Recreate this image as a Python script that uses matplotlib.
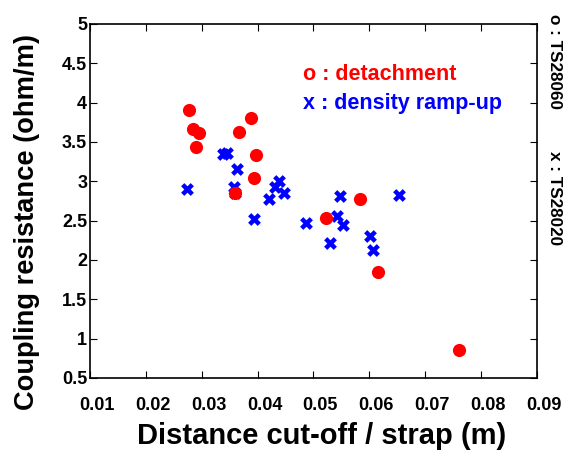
import matplotlib
matplotlib.use("Agg")
import matplotlib.pyplot as plt
import matplotlib.transforms as mtransforms

plt.rcParams["font.family"] = ["Liberation Sans", "DejaVu Sans"]
plt.rcParams["font.weight"] = "bold"

# detachment shots (TS28060)
det_x = [0.0278, 0.0285, 0.0296, 0.0290, 0.0389, 0.0367, 0.0397, 0.0394,
         0.0360, 0.0523, 0.0583, 0.0616, 0.0760]
det_y = [3.91, 3.66, 3.61, 3.44, 3.81, 3.63, 3.34, 3.04,
         2.85, 2.53, 2.78, 1.85, 0.86]

# density ramp-up shots (TS28020)
ramp_x = [0.0273, 0.0339, 0.0345, 0.0363, 0.0357, 0.0360, 0.0393, 0.0438,
          0.0432, 0.0447, 0.0421, 0.0487, 0.0547, 0.0542, 0.0553, 0.0529,
          0.0601, 0.0607, 0.0653]
ramp_y = [2.90, 3.35, 3.36, 3.16, 2.93, 2.85, 2.52, 3.00,
          2.93, 2.85, 2.77, 2.47, 2.81, 2.56, 2.44, 2.22,
          2.31, 2.13, 2.82]

xticks = [0.01, 0.02, 0.03, 0.04, 0.05, 0.06, 0.07, 0.08, 0.09]
yticks = [0.5, 1, 1.5, 2, 2.5, 3, 3.5, 4, 4.5, 5]

fig = plt.figure(figsize=(5.64, 4.5), dpi=100)
ax = fig.add_axes([0.1596, 0.16, 0.792, 0.7867])

ax.scatter(ramp_x, ramp_y, marker="X", s=85, color="blue", linewidths=0, zorder=2)
ax.scatter(det_x, det_y, marker="o", s=90, color="red", linewidths=0, zorder=3)

ax.set_xlim(0.01, 0.09)
ax.set_ylim(0.5, 5)
ax.set_xticks(xticks)
ax.set_xticklabels([f"{v:g}" for v in xticks])
ax.set_yticks(yticks)
ax.set_yticklabels([f"{v:g}" for v in yticks])
ax.tick_params(direction="in", top=True, right=True, length=5, labelsize=13)
ax.tick_params(axis="x", pad=14)
ax.tick_params(axis="y", pad=2)
for s in ax.spines.values():
    s.set_linewidth(1.2)

# x tick labels sit a little right of their ticks in the original
shift = mtransforms.ScaledTranslation(0.07, 0, fig.dpi_scale_trans)
for lab in ax.get_xticklabels():
    lab.set_transform(lab.get_transform() + shift)

ax.set_xlabel("Distance cut-off / strap (m)", fontsize=21, fontweight="bold")
ax.xaxis.set_label_coords(0.519, -0.163)
ax.xaxis.label.set_va("center")
ax.set_ylabel("Coupling resistance (ohm/m)", fontsize=19.6, fontweight="bold")
ax.yaxis.set_label_coords(-0.141, 0.44)
ax.yaxis.label.set_va("center")

ax.text(0.0482, 4.36, "o : detachment", color="red", fontsize=15.5, fontweight="bold", va="center")
ax.text(0.0482, 3.99, "x : density ramp-up", color="blue", fontsize=15.5, fontweight="bold", va="center")

fig.text(0.984, 0.97, "o : TS28060", rotation=-90, fontsize=12.3, fontweight="bold", va="top", ha="center")
fig.text(0.984, 0.665, "x : TS28020", rotation=-90, fontsize=12.3, fontweight="bold", va="top", ha="center")

fig.savefig("out.png", dpi=100)
plt.close(fig)
